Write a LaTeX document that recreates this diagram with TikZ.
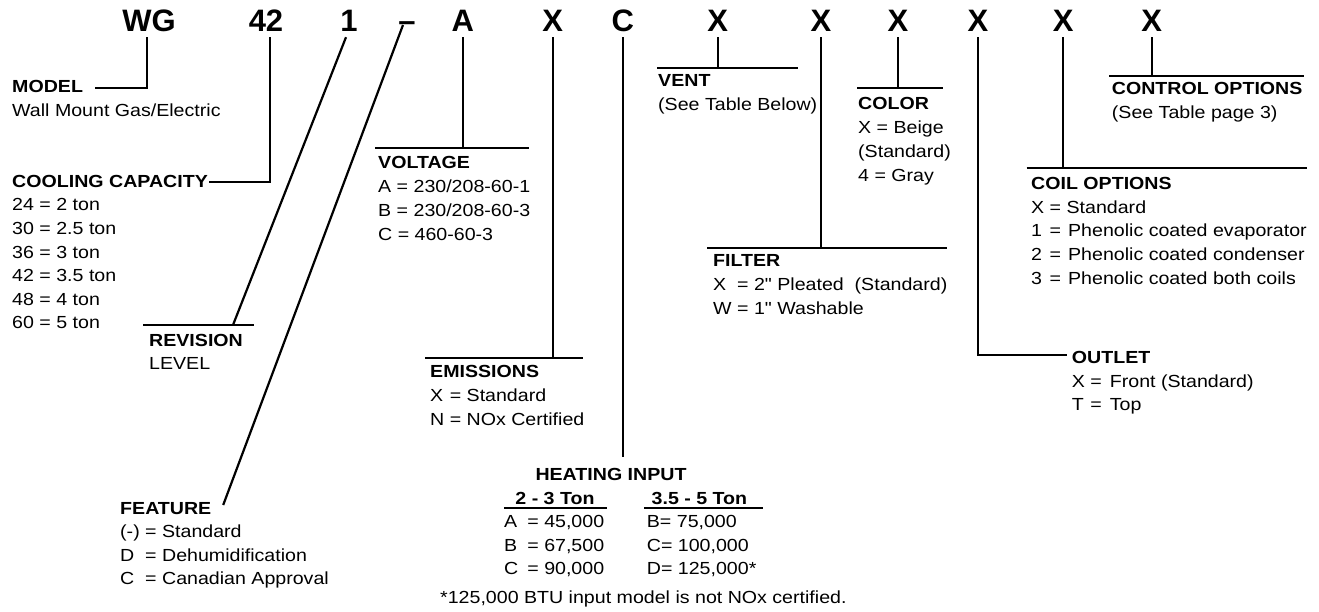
\documentclass[tikz,border=0pt]{standalone}
\usepackage{fontspec}
\setmainfont{Liberation Sans}[FakeStretch=1.12, Ligatures=TeXOff]
\newfontfamily\codefont{Liberation Sans}
\usetikzlibrary{calc}
\newcommand{\bodyfont}{\fontsize{17.5}{23.6}\selectfont}
\newcommand{\codef}{\codefont\bfseries\fontsize{31}{31}\selectfont}
\newcommand{\kvtab}[1]{\begin{tabular}[t]{@{}l@{\ }l@{}}#1\end{tabular}}
\newcommand{\ltab}[1]{\begin{tabular}[t]{@{}l@{}}#1\end{tabular}}
\begin{document}
\begin{tikzpicture}[x=1pt,y=-1pt,
  code/.style={font=\codef, anchor=base, inner xsep=0pt, inner ysep=5pt},
  txt/.style={font=\bodyfont, anchor=base west, inner sep=0pt},
  head/.style={font=\bodyfont\bfseries, anchor=base west, inner sep=0pt},
  lead/.style={line width=2.2pt},
  uline/.style={line width=1.8pt}]
\useasboundingbox (0,0) rectangle (1319,612);

% code letters
\node[code] (wg)    at (149,32)   {WG};
\node[code] (c42)   at (266,32)   {42};
\node[code] (c1)    at (349,32)   {1};
\node[code] (cdash) at (407,32)   {–};
\node[code] (cA)    at (462.7,32) {A};
\node[code] (cX1)   at (552.7,32) {X};
\node[code] (cC)    at (622.7,32) {C};
\node[code] (cX2)   at (717.7,32) {X};
\node[code] (cX3)   at (821,32)   {X};
\node[code] (cX4)   at (898,32)   {X};
\node[code] (cX5)   at (978,32)   {X};
\node[code] (cX6)   at (1063.3,32) {X};
\node[code] (cX7)   at (1151.7,32) {X};

% MODEL
\node[head] (model) at (12,92.5) {MODEL};
\node[txt] (modelt) at (12,116.7) {Wall Mount Gas/Electric};
\draw[lead] ([xshift=-2.3pt]wg.south) |- ($(model.base east)+(12,-4.5)$);

% COOLING CAPACITY
\node[head] (cool) at (12,187.5) {COOLING CAPACITY};
\node[txt] (coolt) at (12,211) {\kvtab{24&= 2 ton\\30&= 2.5 ton\\36&= 3 ton\\42&= 3.5 ton\\48&= 4 ton\\60&= 5 ton}};
\draw[lead] ([xshift=4pt]c42.south) |- ($(cool.base east)+(1,-5.5)$);

% REVISION
\coordinate (revL) at (143,325);
\coordinate (revR) at (254,325);
\coordinate (revJ) at (233,325);
\draw[lead] (revL) -- (revR);
\draw[lead] ([xshift=-3pt]c1.south) -- (revJ);
\node[head] (rev) at (149,346) {REVISION};
\node[txt] (revt) at (149,369.6) {LEVEL};

% FEATURE
\node[head] (feat) at (120,514) {FEATURE};
\node[txt] (featt) at (120,537.6) {\kvtab{(-)&= Standard\\D&= Dehumidification\\C&= Canadian Approval}};
\draw[lead] ($(cdash.base)+(-4,-7)$) -- ($(feat.base east)+(11.7,-9)$);

% VOLTAGE
\coordinate (voltL) at (375,148);
\coordinate (voltR) at (529,148);
\draw[lead] (voltL) -- (voltR);
\draw[lead] (cA.south) -- (cA.south |- voltL);
\node[head] (volt) at (378,169) {VOLTAGE};
\node[txt] (voltt) at (378,193) {\ltab{A = 230/208-60-1\\B = 230/208-60-3\\C = 460-60-3}};

% EMISSIONS
\coordinate (emL) at (425,358);
\coordinate (emR) at (583,358);
\draw[lead] (emL) -- (emR);
\draw[lead] (cX1.south) -- (cX1.south |- emL);
\node[head] (em) at (430,377.7) {EMISSIONS};
\node[txt] (emt) at (430,401.7) {\kvtab{X&= Standard\\N&= NOx Certified}};

% HEATING INPUT
\node[head, anchor=base] (heat) at (611,480) {HEATING INPUT};
\draw[lead] (cC.south) -- ($(heat.north -| cC.south)+(0,-10.5)$);
\node[head, anchor=base] (h23) at (555,504) {2 - 3 Ton};
\node[head, anchor=base] (h35) at (699.4,504) {3.5 - 5 Ton};
\draw[uline] ($(h23.base)+(-51,4)$) -- ($(h23.base)+(52,4)$);
\draw[uline] ($(h35.base)+(-55.4,4)$) -- ($(h35.base)+(63.3,4)$);
\node[txt] (hl) at (504,527.7) {\begin{tabular}[t]{@{}l@{\hspace{9pt}}l@{}}A&= 45,000\\B&= 67,500\\C&= 90,000\end{tabular}};
\node[txt] (hr) at (646.7,527.7) {\ltab{B= 75,000\\C= 100,000\\D= 125,000*}};
\node[txt] (note) at (440,603) {*125,000 BTU input model is not NOx certified.};

% VENT
\coordinate (ventL) at (657,68);
\coordinate (ventR) at (798,68);
\draw[lead] (ventL) -- (ventR);
\draw[lead] (cX2.south) -- (cX2.south |- ventL);
\node[head] (vent) at (658,87) {VENT};
\node[txt] (ventt) at (658,110.6) {(See Table Below)};

% FILTER
\coordinate (filL) at (707,247.7);
\coordinate (filR) at (946.7,247.7);
\draw[lead] (filL) -- (filR);
\draw[lead] (cX3.south) -- (cX3.south |- filL);
\node[head] (fil) at (713,266.7) {FILTER};
\node[txt] (filt) at (713,290.7) {\kvtab{X&= 2" Pleated\ \ (Standard)\\W&= 1" Washable}};

% COLOR
\coordinate (colL) at (857,88.3);
\coordinate (colR) at (942.7,88.3);
\draw[lead] (colL) -- (colR);
\draw[lead] (cX4.south) -- (cX4.south |- colL);
\node[head] (col) at (858,110) {COLOR};
\node[txt] (colt) at (858,134) {\ltab{X = Beige\\(Standard)\\4 = Gray}};

% OUTLET
\node[head] (out) at (1071.7,363) {OUTLET};
\node[txt] (outt) at (1071.7,387) {\kvtab{X&=\hspace{8pt}Front (Standard)\\T&=\hspace{8pt}Top}};
\draw[lead] (cX5.south) |- ($(out.base west)+(-5,-8)$);

% COIL OPTIONS
\coordinate (coilL) at (1026.7,168.3);
\coordinate (coilR) at (1306.7,168.3);
\draw[lead] (coilL) -- (coilR);
\draw[lead] (cX6.south) -- (cX6.south |- coilL);
\node[head] (coil) at (1031,190) {COIL OPTIONS};
\node[txt] (coilt) at (1031,213.3) {\kvtab{X&= Standard\\1&=\hspace{7pt}Phenolic coated evaporator\\2&=\hspace{7pt}Phenolic coated condenser\\3&=\hspace{7pt}Phenolic coated both coils}};

% CONTROL OPTIONS
\coordinate (ctlL) at (1109.3,76);
\coordinate (ctlR) at (1304,76);
\draw[lead] (ctlL) -- (ctlR);
\draw[lead] (cX7.south) -- (cX7.south |- ctlL);
\node[head] (ctl) at (1111.7,95) {CONTROL OPTIONS};
\node[txt] (ctlt) at (1111.7,118.6) {(See Table page 3)};
\end{tikzpicture}
\end{document}
